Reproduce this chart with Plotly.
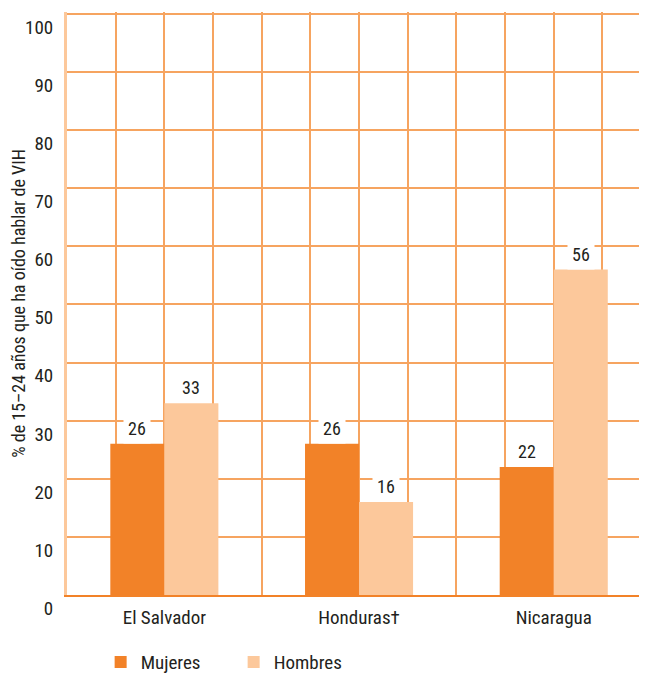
import plotly.graph_objects as go

countries = ["El Salvador", "Honduras†", "Nicaragua"]
series_names = ["Mujeres", "Hombres"]
mujeres = [26, 26, 22]
hombres = [33, 16, 56]
y_title = "% de 15–24 años que ha oído hablar de VIH"

FONT = "Liberation Sans Narrow, Roboto Condensed, Arial Narrow, Roboto, sans-serif"
DARK = "#F28228"
LIGHT = "#FCC89B"
GRID = "#F6A460"
TXT = "#231F20"

idx = list(range(len(countries)))

fig = go.Figure()
fig.add_trace(go.Bar(x=idx, y=mujeres, name=series_names[0], marker_color=DARK,
                     marker_line_width=0))
fig.add_trace(go.Bar(x=idx, y=hombres, name=series_names[1], marker_color=LIGHT,
                     marker_line_width=0))

annotations = []
for vals, shift in ((mujeres, -27), (hombres, 27)):
    for i, v in zip(idx, vals):
        annotations.append(dict(x=i, y=v, xref="x", yref="y", text=str(v),
                                showarrow=False, yanchor="bottom", xshift=shift,
                                yshift=0, bgcolor="white", borderpad=4,
                                font=dict(family=FONT, size=18, color=TXT)))

fig.update_layout(
    width=639, height=669,
    margin=dict(l=59, r=0, t=4, b=82, autoexpand=False),
    plot_bgcolor="white", paper_bgcolor="white",
    barmode="group", bargap=0.445, bargroupgap=0,
    font=dict(family=FONT, size=16, color=TXT),
    showlegend=True,
    legend=dict(orientation="h", x=0.058, y=-0.115, xanchor="left", yanchor="middle",
                font=dict(family=FONT, size=19, color=TXT),
                entrywidth=88, entrywidthmode="pixels", tracegroupgap=0),
    annotations=annotations,
)
fig.update_xaxes(
    range=[-0.5, 2.479], tickvals=idx, ticktext=countries,
    showgrid=True, gridcolor=GRID, gridwidth=1.5,
    minor=dict(tickmode="linear", tick0=-0.5, dtick=0.25, showgrid=True,
               gridcolor=GRID, gridwidth=1.5, ticks=""),
    showline=True, linecolor=DARK, linewidth=1.5,
    ticks="", tickfont=dict(family=FONT, size=19, color=TXT),
    ticklabelstandoff=4, automargin=False,
    zeroline=False,
)
fig.update_yaxes(
    range=[0, 100.3], dtick=10, tick0=0,
    showgrid=True, gridcolor=GRID, gridwidth=1.5,
    showline=True, linecolor=LIGHT, linewidth=3,
    zeroline=False, ticks="", ticklen=0,
    ticklabelposition="outside bottom",
    tickfont=dict(family=FONT, size=19, color=TXT),
    ticklabelstandoff=7, automargin=False,
    title=dict(text=y_title, font=dict(family=FONT, size=18, color=TXT), standoff=12),
)

fig.write_html("out.html")
